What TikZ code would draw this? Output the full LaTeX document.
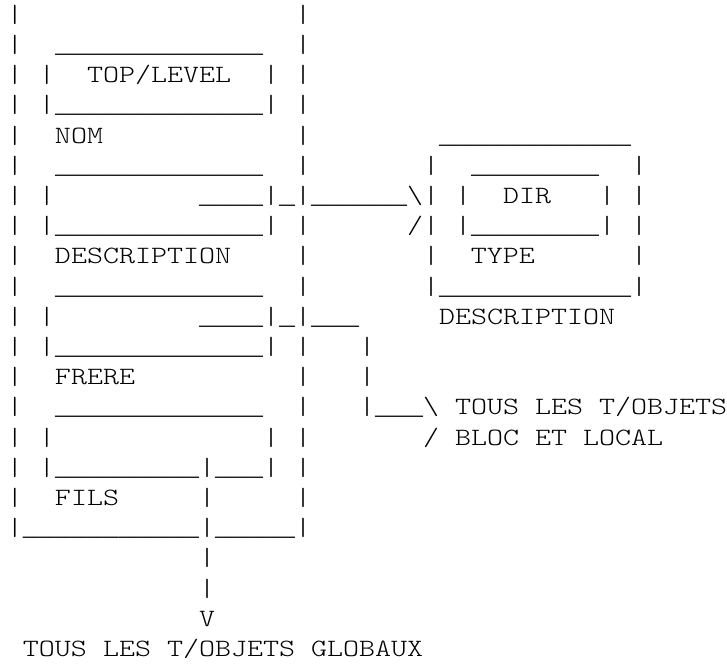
\documentclass[tikz,border=0pt]{standalone}
\usepackage{fontspec}
\newfontfamily\asciifont{lmmonolt10-regular.otf}[FakeStretch=1.22493]
\newfontfamily\lowfont{Liberation Mono}
\ExplSyntaxOn
\cs_new:Npn \Rpt #1#2 { \prg_replicate:nn {#1} {#2} }
\ExplSyntaxOff
\newcommand\Sp[1]{\Rpt{#1}{~}}
\newcommand\Us[1]{{\lowfont\fontsize{20pt}{22.65pt}\selectfont\Rpt{#1}{\_}}}
\newcommand\Bs{\textbackslash}
\begin{document}
\begin{tikzpicture}[x=0.75pt,y=0.75pt,
  row/.style={anchor=base west,inner sep=0pt,outer sep=0pt,text=black,
    font=\asciifont\fontsize{18.66pt}{22.65pt}\selectfont}]
\useasboundingbox (0,0) rectangle (727,-664);
\node[row] (r1)  at (7,-22.2)  {|\Sp{17}|};
\node[row] (r2)  at (7,-52.4)  {|\Sp{2}\Us{13}\Sp{2}|};
\node[row] (r3)  at (7,-82.6)  {|~|~~TOP/LEVEL~~|~|};
\node[row] (r4)  at (7,-112.8) {|~|\Us{13}|~|};
\node[row] (r5)  at (7,-143.0) {|~~NOM\Sp{12}|\Sp{8}\Us{12}};
\node[row] (r6)  at (7,-173.2) {|\Sp{2}\Us{13}\Sp{2}|\Sp{7}|\Sp{2}\Us{8}\Sp{2}|};
\node[row] (r7)  at (7,-203.4) {|~|\Sp{9}\Us{4}|\Us{1}|\Us{6}\Bs|~|~~DIR~~~|~|};
\node[row] (r8)  at (7,-233.6) {|~|\Us{13}|~|\Sp{6}/|~|\Us{8}|~|};
\node[row] (r9)  at (7,-263.8) {|~~DESCRIPTION\Sp{4}|\Sp{7}|~~TYPE\Sp{6}|};
\node[row] (r10) at (7,-294.0) {|\Sp{2}\Us{13}\Sp{2}|\Sp{7}|\Us{12}|};
\node[row] (r11) at (7,-324.2) {|~|\Sp{9}\Us{4}|\Us{1}|\Us{3}\Sp{5}DESCRIPTION};
\node[row] (r12) at (7,-354.4) {|~|\Us{13}|~|\Sp{3}|};
\node[row] (r13) at (7,-384.6) {|~~FRERE\Sp{10}|\Sp{3}|};
\node[row] (r14) at (7,-414.8) {|\Sp{2}\Us{13}\Sp{2}|\Sp{3}|\Us{3}\Bs~TOUS LES T/OBJETS};
\node[row] (r15) at (7,-445.0) {|~|\Sp{13}|~|\Sp{7}/~BLOC ET LOCAL};
\node[row] (r16) at (7,-475.2) {|~|\Us{9}|\Us{3}|~|};
\node[row] (r17) at (7,-505.4) {|~~FILS\Sp{5}|\Sp{5}|};
\node[row] (r18) at (7,-535.6) {|\Us{11}|\Us{5}|};
\node[row] (r19) at (7,-565.8) {\Sp{12}|};
\node[row] (r20) at (7,-596.0) {\Sp{12}|};
\node[row] (r21) at (7,-626.2) {\Sp{12}V};
\node[row] (r22) at (7,-656.4) {~TOUS LES T/OBJETS GLOBAUX};
\end{tikzpicture}
\end{document}
